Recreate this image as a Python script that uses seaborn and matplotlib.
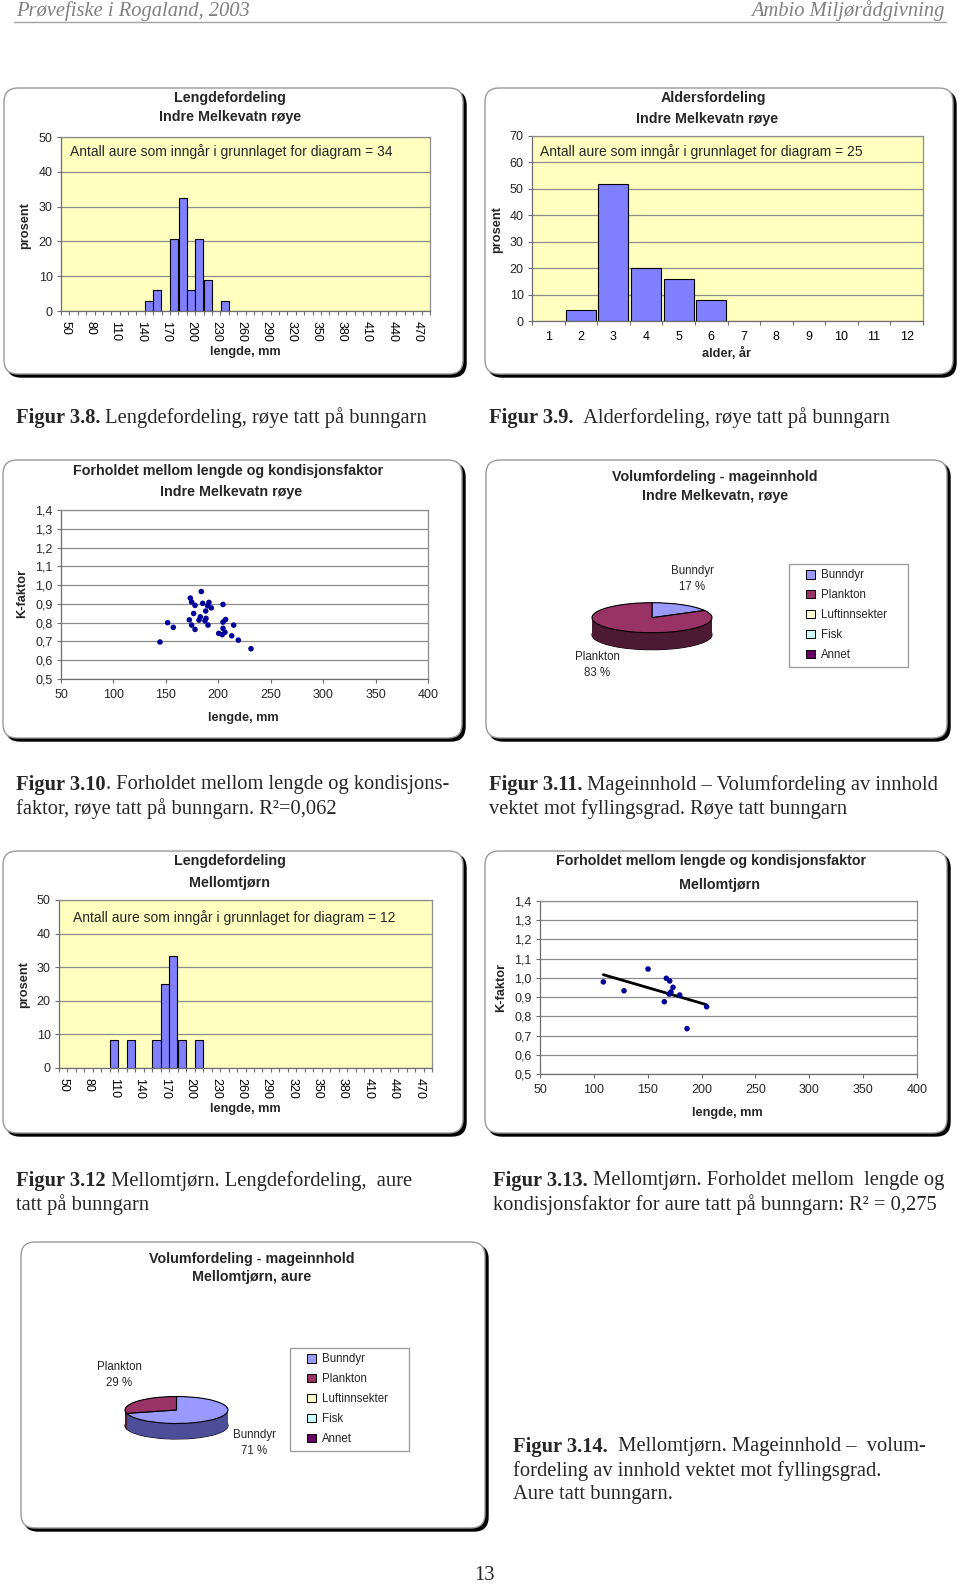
import numpy as np
import pandas as pd
import matplotlib
matplotlib.use("Agg")
import matplotlib.pyplot as plt
import matplotlib.transforms as mtransforms
from matplotlib.patches import FancyBboxPatch, Patch, Rectangle
from matplotlib.ticker import FuncFormatter
import seaborn as sns

# ---------------- data ----------------
length_classes = [str(v) for v in range(50, 490, 10)]
age_classes = [str(v) for v in range(1, 13)]

melk_len_class = ["150", "160", "180", "190", "200", "210", "220", "240"]
melk_len_pct = [2.9, 5.9, 20.6, 32.4, 5.9, 20.6, 8.8, 2.9]
melk_len_n = 34

melk_age_class = ["2", "3", "4", "5", "6"]
melk_age_pct = [4, 52, 20, 16, 8]
melk_age_n = 25

melk_k_length = [144.4, 151.7, 157.1, 173.3, 174.6, 177.8, 176.5, 172.4, 174.6, 177.8,
                 183.8, 185.1, 182.9, 181.6, 188.0, 187.3, 188.3, 191.1, 189.8, 193.3,
                 190.2, 204.5, 204.5, 207.0, 204.5, 206.4, 200.4, 203.8, 214.7, 212.8,
                 219.1, 231.2]
melk_k_factor = [0.697, 0.800, 0.775, 0.931, 0.910, 0.892, 0.849, 0.815, 0.787, 0.764,
                 0.966, 0.903, 0.831, 0.814, 0.862, 0.810, 0.823, 0.908, 0.890, 0.879,
                 0.787, 0.897, 0.803, 0.817, 0.770, 0.749, 0.743, 0.736, 0.787, 0.730,
                 0.707, 0.661]

diet_items = ["Bunndyr", "Plankton", "Luftinnsekter", "Fisk", "Annet"]
melk_diet_pct = [17, 83, 0, 0, 0]

mell_len_class = ["110", "130", "160", "170", "180", "190", "210"]
mell_len_pct = [8.3, 8.3, 8.3, 25.0, 33.3, 8.3, 8.3]
mell_len_n = 12

mell_k_length = [108.8, 128.0, 150.3, 165.4, 167.3, 170.4, 173.5, 171.6, 170.0, 179.7, 204.7, 186.5]
mell_k_factor = [0.979, 0.933, 1.046, 0.876, 0.998, 0.984, 0.951, 0.927, 0.916, 0.911, 0.850, 0.736]

mell_diet_pct = [71, 29, 0, 0, 0]

# ---------------- style ----------------
BAR = "#8080FF"
PLOT_BG = "#FFFFC0"
GRID = "#8C8C8C"
AXC = "#6E6E6E"
DOT = "#000099"
DIET_TOP = ["#9999FF", "#993366", "#FFFFCC", "#CCFFFF", "#660066"]
DIET_SIDE = ["#4D4D99", "#4D1A33", "#808066", "#668080", "#330033"]
SERIF = ["Liberation Serif", "DejaVu Serif"]
TITLE_FS = 10.3
TICK_FS = 9
LABEL_FS = 9.2
ANN_FS = 10
CAP_FS = 14.8

W, H = 960, 1587
sns.set_theme(style="white")
plt.rcParams["font.family"] = ["Liberation Sans", "DejaVu Sans"]

fig = plt.figure(figsize=(W / 100, H / 100), dpi=100)
fig.patch.set_facecolor("white")
PX = mtransforms.Affine2D().scale(1 / W, -1 / H).translate(0, 1) + fig.transFigure


def pax(x0, y0, x1, y1):
    return fig.add_axes([x0 / W, 1 - y1 / H, (x1 - x0) / W, (y1 - y0) / H])


def ptext(x, y, s, **kw):
    kw.setdefault("ha", "center")
    kw.setdefault("va", "center")
    return fig.text(x, y, s, transform=PX, **kw)


def card(x0, y0, x1, y1):
    sh = FancyBboxPatch((x0 + 3, y0 + 3), x1 - x0, y1 - y0,
                        boxstyle="round,pad=0,rounding_size=14", transform=PX,
                        fc="black", ec="black", lw=1, zorder=-3)
    bx = FancyBboxPatch((x0, y0), x1 - x0, y1 - y0,
                        boxstyle="round,pad=0,rounding_size=14", transform=PX,
                        fc="white", ec="#9A9A9A", lw=1, zorder=-2)
    fig.add_artist(sh)
    fig.add_artist(bx)


def style_cat(ax, ncat, ymax):
    ax.set_facecolor(PLOT_BG)
    ax.set_xlim(-0.5, ncat - 0.5)
    ax.set_ylim(0, ymax)
    ax.set_yticks(np.arange(0, ymax + 1, 10))
    ax.yaxis.grid(True, color=GRID, lw=0.9)
    ax.xaxis.grid(False)
    ax.set_axisbelow(True)
    for s in ax.spines.values():
        s.set_visible(True)
        s.set_color(GRID)
        s.set_linewidth(0.9)
    ax.spines["left"].set_color(AXC)
    ax.spines["bottom"].set_color(AXC)
    ax.set_xticks(np.arange(-0.5, ncat, 1), minor=True)
    ax.tick_params(axis="x", which="major", bottom=True, length=0, labelsize=TICK_FS, colors="black")
    ax.tick_params(axis="x", which="minor", bottom=True, length=3, width=0.8, color=AXC)
    ax.tick_params(axis="y", left=True, length=3, width=0.8, color=AXC, labelsize=TICK_FS, pad=3)
    ax.set_xlabel("")
    ax.set_ylabel("")


def style_scatter(ax):
    ax.set_facecolor("white")
    ax.set_xlim(50, 400)
    ax.set_ylim(0.5, 1.4)
    ax.set_xticks(np.arange(50, 401, 50))
    ax.set_yticks(np.round(np.arange(0.5, 1.41, 0.1), 1))
    ax.yaxis.set_major_formatter(FuncFormatter(lambda v, p: f"{v:.1f}".replace(".", ",")))
    ax.yaxis.grid(True, color=GRID, lw=0.9)
    ax.xaxis.grid(False)
    ax.set_axisbelow(True)
    for s in ax.spines.values():
        s.set_visible(True)
        s.set_color(GRID)
        s.set_linewidth(0.9)
    ax.spines["left"].set_color(AXC)
    ax.spines["bottom"].set_color(AXC)
    ax.tick_params(axis="x", bottom=True, length=3, width=0.8, color=AXC, labelsize=TICK_FS, pad=4)
    ax.tick_params(axis="y", left=True, length=3, width=0.8, color=AXC, labelsize=TICK_FS, pad=3)
    ax.set_xlabel("")
    ax.set_ylabel("")


def length_hist(box, plot, cats, pct, n, titles, title_x, title_y, ann_xy, ylab_xy, xlab_xy):
    card(*box)
    ax = pax(*plot)
    sns.barplot(x=cats, y=pct, order=length_classes, color=BAR, saturation=1,
                edgecolor="black", linewidth=0.8, width=0.95, errorbar=None, ax=ax)
    style_cat(ax, len(length_classes), 50)
    ax.set_xticks(range(0, len(length_classes), 3))
    ax.set_xticklabels(length_classes[::3], rotation=270)
    ax.tick_params(axis="x", which="major", pad=7)
    for t, ty in zip(titles, title_y):
        ptext(title_x, ty, t, weight="bold", size=TITLE_FS)
    ptext(ann_xy[0], ann_xy[1], f"Antall aure som inngår i grunnlaget for diagram = {n}",
          ha="left", size=ANN_FS)
    ptext(*ylab_xy, "prosent", rotation=90, weight="bold", size=LABEL_FS)
    ptext(*xlab_xy, "lengde, mm", weight="bold", size=LABEL_FS)
    return ax


def k_scatter(box, plot, xs, ys, titles, title_xy, ylab_xy, xlab_xy, trend=False):
    card(*box)
    ax = pax(*plot)
    if trend:
        sns.regplot(x=xs, y=ys, scatter=False, ci=None, truncate=True,
                    line_kws=dict(color="black", lw=2), ax=ax)
    sns.scatterplot(x=xs, y=ys, color=DOT, s=16, edgecolor="none", ax=ax, zorder=3)
    style_scatter(ax)
    for t, (tx, ty) in zip(titles, title_xy):
        ptext(tx, ty, t, weight="bold", size=TITLE_FS)
    ptext(*ylab_xy, "K-faktor", rotation=90, weight="bold", size=LABEL_FS)
    ptext(*xlab_xy, "lengde, mm", weight="bold", size=LABEL_FS)
    return ax


def pie3d(box, cx, cy, rx, ry, depth, pct, titles, title_xy, label_xy, legend_box):
    card(*box)
    m = 6
    ax = pax(cx - rx - m, cy - ry - m, cx + rx + m, cy + ry + depth + m)
    vals = [v for v in pct if v > 0]
    tops = [c for c, v in zip(DIET_TOP, pct) if v > 0]
    sides = [c for c, v in zip(DIET_SIDE, pct) if v > 0]
    dy = depth / ry
    ax.pie(vals, colors=sides, startangle=90, counterclock=False, center=(0, -dy),
           wedgeprops=dict(ec="black", lw=0.8))
    for d in np.linspace(dy, 0, int(depth) * 2 + 2):
        ax.pie(vals, colors=sides, startangle=90, counterclock=False, center=(0, -d),
               wedgeprops=dict(lw=0))
    ax.pie(vals, colors=tops, startangle=90, counterclock=False, center=(0, 0),
           wedgeprops=dict(ec="black", lw=0.8))
    ax.set_aspect("auto")
    ax.set_xlim(-(rx + m) / rx, (rx + m) / rx)
    ax.set_ylim(-(ry + depth + m) / ry, (ry + m) / ry)
    ax.axis("off")
    for t, (tx, ty) in zip(titles, title_xy):
        ptext(tx, ty, t, weight="bold", size=TITLE_FS)
    for (item, v), (lx, ly) in zip([(i, v) for i, v in zip(diet_items, pct) if v > 0], label_xy):
        ptext(lx, ly, f"{item}\n{v} %", size=8.3, linespacing=1.5)
    lx0, ly0, lx1, ly1 = legend_box
    fig.add_artist(Rectangle((lx0, ly0), lx1 - lx0, ly1 - ly0, transform=PX,
                             fc="white", ec="#A0A0A0", lw=1, zorder=1))
    handles = [Patch(fc=c, ec="black", lw=0.7) for c in DIET_TOP]
    leg = fig.legend(handles, diet_items, loc="upper left",
                     bbox_to_anchor=((lx0 + 14) / W, 1 - (ly0 + 2) / H),
                     frameon=False, fontsize=8.3, handlelength=0.75, handleheight=0.75,
                     handletextpad=0.5, labelspacing=0.68, borderaxespad=0, borderpad=0.3)
    leg.set_zorder(2)


# ---------------- header ----------------
ptext(16, 11, "Prøvefiske i Rogaland, 2003", ha="left", family=SERIF, style="italic",
      size=14.8, color="#808080")
ptext(944, 11, "Ambio Miljørådgivning", ha="right", family=SERIF, style="italic",
      size=14.8, color="#808080")
fig.add_artist(plt.Line2D([14, 946], [22, 22], transform=PX, color="#A0A0A0", lw=1))

# ---------------- chart 1: length distribution Indre Melkevatn ----------------
length_hist((4, 88, 463, 374), (61, 137, 430, 311), melk_len_class, melk_len_pct, melk_len_n,
            ["Lengdefordeling", "Indre Melkevatn røye"], 230, [98, 117],
            (70, 152), (25, 226), (245, 352))

# ---------------- chart 2: age distribution ----------------
card(485, 88, 953, 374)
ax2 = pax(532, 136, 923, 321)
sns.barplot(x=melk_age_class, y=melk_age_pct, order=age_classes, color=BAR, saturation=1,
            edgecolor="black", linewidth=0.8, width=0.92, errorbar=None, ax=ax2)
style_cat(ax2, len(age_classes), 70)
ax2.set_xticks(range(len(age_classes)))
ax2.set_xticklabels(age_classes)
ax2.tick_params(axis="x", which="major", pad=7.5)
ptext(713, 98, "Aldersfordeling", weight="bold", size=TITLE_FS)
ptext(707, 119, "Indre Melkevatn røye", weight="bold", size=TITLE_FS)
ptext(540, 152, f"Antall aure som inngår i grunnlaget for diagram = {melk_age_n}", ha="left", size=ANN_FS)
ptext(497, 230, "prosent", rotation=90, weight="bold", size=LABEL_FS)
ptext(727, 353, "alder, år", weight="bold", size=LABEL_FS)

# ---------------- chart 3: K-factor Indre Melkevatn ----------------
k_scatter((3, 460, 462, 738), (61, 510, 428, 679), melk_k_length, melk_k_factor,
          ["Forholdet mellom lengde og kondisjonsfaktor", "Indre Melkevatn røye"],
          [(228, 471), (231, 492)], (22, 593), (243, 718))

# ---------------- chart 4: diet Indre Melkevatn ----------------
pie3d((486, 460, 947, 738), 652, 617.7, 60, 15, 17, melk_diet_pct,
      ["Volumfordeling - mageinnhold", "Indre Melkevatn, røye"], [(715, 477), (715, 496)],
      [(692, 579), (597, 665)], (789, 564, 908, 667))

# ---------------- chart 5: length distribution Mellomtjørn ----------------
length_hist((3, 851, 463, 1133), (59, 900, 432, 1068), mell_len_class, mell_len_pct, mell_len_n,
            ["Lengdefordeling", "Mellomtjørn"], 230, [861, 883],
            (73, 918), (24, 985), (245, 1109))

# ---------------- chart 6: K-factor Mellomtjørn ----------------
k_scatter((485, 851, 947, 1133), (540, 901, 917, 1074), mell_k_length, mell_k_factor,
          ["Forholdet mellom lengde og kondisjonsfaktor", "Mellomtjørn"],
          [(711, 861), (720, 885)], (501, 987), (727, 1113), trend=True)

# ---------------- chart 7: diet Mellomtjørn ----------------
pie3d((21, 1242, 485, 1528), 176.5, 1410, 51.5, 13.5, 15.5, mell_diet_pct,
      ["Volumfordeling - mageinnhold", "Mellomtjørn, aure"], [(252, 1259), (252, 1277)],
      [(254, 1443), (119, 1375)], (290, 1348, 409, 1451))

# ---------------- captions ----------------
renderer = fig.canvas.get_renderer()


def caption(x, y, bold, rest, size=CAP_FS):
    t = ptext(x, y, bold, ha="left", family=SERIF, weight="bold", size=size)
    w = t.get_window_extent(renderer=renderer).width
    ptext(x + w, y, rest, ha="left", family=SERIF, size=size)


def line(x, y, s, size=CAP_FS):
    ptext(x, y, s, ha="left", family=SERIF, size=size)


caption(16, 418, "Figur 3.8.", " Lengdefordeling, røye tatt på bunngarn")
caption(489, 418, "Figur 3.9.", "  Alderfordeling, røye tatt på bunngarn")
caption(16, 785, "Figur 3.10", ". Forholdet mellom lengde og kondisjons-")
line(16, 809, "faktor, røye tatt på bunngarn. R²=0,062")
caption(489, 785, "Figur 3.11.", " Mageinnhold – Volumfordeling av innhold")
line(489, 809, "vektet mot fyllingsgrad. Røye tatt bunngarn")
caption(16, 1181, "Figur 3.12", " Mellomtjørn. Lengdefordeling,  aure")
line(16, 1205, "tatt på bunngarn")
caption(493, 1181, "Figur 3.13.", " Mellomtjørn. Forholdet mellom  lengde og")
line(493, 1205, "kondisjonsfaktor for aure tatt på bunngarn: R² = 0,275")
caption(513, 1447, "Figur 3.14.", "  Mellomtjørn. Mageinnhold –  volum-")
line(513, 1471, "fordeling av innhold vektet mot fyllingsgrad.")
line(513, 1495, "Aure tatt bunngarn.")
ptext(484, 1576, "13", family=SERIF, size=CAP_FS)

fig.savefig("out.png", dpi=100, facecolor="white")
